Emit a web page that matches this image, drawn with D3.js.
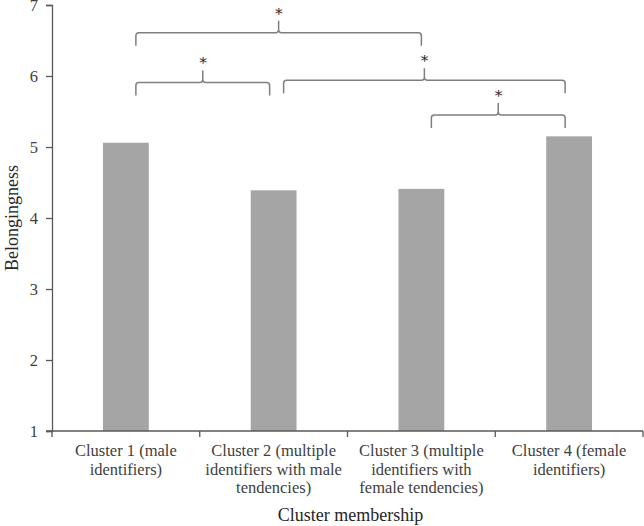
<!DOCTYPE html>
<html lang="en">
<head>
    <meta charset="UTF-8">
    <title>Belongingness by cluster</title>
    <script src="https://d3js.org/d3.v7.min.js"></script>
    <style>
        body { margin: 0; padding: 0; background: #fff; }
        svg text { font-family: "Liberation Serif", "Times New Roman", "DejaVu Serif", serif; }
    </style>
</head>
<body>
    <svg id="chart" width="644" height="526"></svg>
    <script>
        // data
        const clusters = [
            ["Cluster 1 (male", "identifiers)"],
            ["Cluster 2 (multiple", "identifiers with male", "tendencies)"],
            ["Cluster 3 (multiple", "identifiers with", "female tendencies)"],
            ["Cluster 4 (female", "identifiers)"]
        ];
        const belonging = [5.06, 4.39, 4.41, 5.15];
        const yTicks = [1, 2, 3, 4, 5, 6, 7];

        // significance brackets: from / to cluster index, level on y
        const bracketFrom = [0, 0, 1, 2];
        const bracketTo = [2, 1, 3, 3];
        const bracketLevel = [6.61, 5.91, 5.94, 5.45];

        const svg = d3.select("#chart");
        const margin = { top: 5, right: 1, bottom: 95, left: 52 };
        const width = 644 - margin.left - margin.right;
        const height = 526 - margin.top - margin.bottom;
        const g = svg.append("g").attr("transform", `translate(${margin.left},${margin.top})`);

        const x = d3.scaleBand().domain(d3.range(clusters.length)).range([0, width])
            .paddingInner(0.69).paddingOuter(0.345);
        const y = d3.scaleLinear().domain([1, 7]).range([height, 0]);
        const step = x.step();
        const cx = i => x(i) + x.bandwidth() / 2;

        // bars
        g.selectAll("rect.bar")
            .data(belonging)
            .enter()
            .append("rect")
            .attr("class", "bar")
            .attr("x", (d, i) => x(i))
            .attr("y", d => y(d))
            .attr("width", x.bandwidth())
            .attr("height", d => y(1) - y(d))
            .attr("fill", "#a5a5a5");

        // y axis
        const yAxis = g.append("g")
            .call(d3.axisLeft(y).tickValues(yTicks).tickSize(6).tickFormat(d3.format("d")))
            .attr("font-family", null);
        yAxis.select(".domain").attr("stroke", "#595959").attr("stroke-width", 1.3);
        yAxis.selectAll(".tick line").attr("stroke", "#595959").attr("stroke-width", 1.3);
        yAxis.selectAll(".tick text")
            .attr("x", -14)
            .attr("font-size", 16.5)
            .attr("fill", "#404040");

        // x axis with ticks between categories
        const xAxis = g.append("g").attr("transform", `translate(0,${height})`);
        xAxis.append("line")
            .attr("x1", -6).attr("x2", width)
            .attr("stroke", "#595959").attr("stroke-width", 1.3);
        xAxis.selectAll("line.sep")
            .data(d3.range(clusters.length + 1))
            .enter()
            .append("line")
            .attr("class", "sep")
            .attr("x1", i => i * step).attr("x2", i => i * step)
            .attr("y1", 0).attr("y2", 6)
            .attr("stroke", "#595959").attr("stroke-width", 1.3);

        const labels = xAxis.selectAll("text.cat")
            .data(clusters)
            .enter()
            .append("text")
            .attr("class", "cat")
            .attr("text-anchor", "middle")
            .attr("font-size", 16.5)
            .attr("fill", "#404040")
            .attr("transform", (d, i) => `translate(${cx(i)},${25})`);
        labels.selectAll("tspan")
            .data(d => d)
            .enter()
            .append("tspan")
            .attr("x", 0)
            .attr("dy", (d, i) => i === 0 ? 0 : 18.7)
            .text(d => d);

        // axis titles
        svg.append("text")
            .attr("x", margin.left + width / 2 + 3)
            .attr("y", 521)
            .attr("text-anchor", "middle")
            .attr("font-size", 18)
            .attr("fill", "#262626")
            .text("Cluster membership");
        svg.append("text")
            .attr("transform", `translate(18,${margin.top + height / 2}) rotate(-90)`)
            .attr("text-anchor", "middle")
            .attr("font-size", 18)
            .attr("fill", "#262626")
            .text("Belongingness");

        // curly brackets
        function bracePath(x0, x1, yy) {
            const xm = (x0 + x1) / 2;
            const r = 3, drop = 13, rise = 12;
            return `M${x0},${yy + drop} L${x0},${yy + r} Q${x0},${yy} ${x0 + r},${yy}` +
                ` L${xm - r},${yy} Q${xm},${yy} ${xm},${yy - r} L${xm},${yy - rise}` +
                ` M${xm},${yy - r} Q${xm},${yy} ${xm + r},${yy} L${x1 - r},${yy}` +
                ` Q${x1},${yy} ${x1},${yy + r} L${x1},${yy + drop}`;
        }
        const brackets = bracketFrom.map((f, i) => ({ from: f, to: bracketTo[i], level: bracketLevel[i] }));
        brackets.forEach(d => {
            d.x0 = cx(d.from) + 10;
            d.x1 = cx(d.to) - (d.from === 0 && d.to === 2 ? 0 : 4);
        });
        const bg = g.append("g");
        bg.selectAll("path")
            .data(brackets)
            .enter()
            .append("path")
            .attr("d", d => bracePath(d.x0, d.x1, y(d.level)))
            .attr("fill", "none")
            .attr("stroke", "#7f7f7f")
            .attr("stroke-width", 1.5);
        bg.selectAll("text")
            .data(brackets)
            .enter()
            .append("text")
            .attr("x", d => (d.x0 + d.x1) / 2)
            .attr("y", d => y(d.level) - 17)
            .attr("text-anchor", "middle")
            .attr("font-size", 15)
            .attr("fill", "#262626")
            .text("\u2217");
    </script>
</body>
</html>
